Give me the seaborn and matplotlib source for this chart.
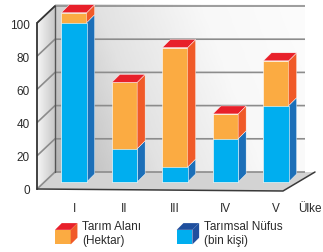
import numpy as np
import pandas as pd
import matplotlib.pyplot as plt
import seaborn as sns
from matplotlib.patches import Polygon, Rectangle, Patch
from matplotlib.colors import LinearSegmentedColormap
from matplotlib.legend_handler import HandlerBase

# data
ulke = ['I', 'II', 'III', 'IV', 'V']
nufus = [96, 20, 9, 26, 46]     # Tarımsal Nüfus (bin kişi), lower part
alan = [6, 40, 72, 15, 27]      # Tarım Alanı (Hektar), stacked on top
y_ticks = [0, 20, 40, 60, 80, 100]

df = pd.DataFrame({'ulke': ulke, 'nufus': nufus, 'alan': alan})
df['toplam'] = df['nufus'] + df['alan']

# colours
mavi, mavi_yan, mavi_ust = '#00aeef', '#1c6fb8', '#1f4f9e'
turuncu, turuncu_yan, kirmizi = '#fbab42', '#f05a28', '#e8202a'
yazi = '#2b2b2b'

sns.set_style('white')
plt.rcParams['font.family'] = ['Liberation Sans', 'DejaVu Sans']

# pixel scale of the reference -> data units
PX, PY = 50.5, 1.66
on = (-7 / PX, -7 / PY)      # front plane offset from bar plane
arka = (11 / PX, 10 / PY)    # back plane offset
derin = (8 / PX, 8 / PY)     # depth of the bars
xl_on = -37 / PX             # left wall, front edge
xl_arka = xl_on + arka[0] - on[0]
xr_arka = 231 / PX

fig = plt.figure(figsize=(3.23, 2.53), dpi=100)
ax = fig.add_axes([37 / 323, 61 / 253, 286 / 323, 192 / 253])

# back wall with a soft gradient
gx = np.linspace(0, 1, 200)[None, :]
gy = np.linspace(0, 1, 60)[:, None]
duvar_cmap = LinearSegmentedColormap.from_list('duvar', ['#b4b4b4', '#e2e2e2', '#f8f8f8', '#fcfcfc'])
ax.imshow(0.8 * gx + 0.2 * gy, extent=[xl_arka, xr_arka, arka[1], 100 + arka[1] + 2 / PY],
          origin='lower', aspect='auto', cmap=duvar_cmap, zorder=0)

# left wall
sol = Polygon([(xl_on, on[1]), (xl_on, 100 + on[1]), (xl_arka, 100 + arka[1]), (xl_arka, arka[1])],
              closed=True, fc='none', ec='none')
ax.add_patch(sol)
sol_cmap = LinearSegmentedColormap.from_list('sol', ['#f6f6f6', '#c8c8c8'])
im = ax.imshow(gx, extent=[xl_on, xl_arka, on[1], 100 + arka[1]], origin='lower',
               aspect='auto', cmap=sol_cmap, zorder=0.5)
im.set_clip_path(sol)

# floor
zemin = Polygon([(xl_on, on[1]), (209 / PX, -9 / PY), (241 / PX, arka[1]), (xl_arka, arka[1])],
                closed=True, fc='#d3d3d3', ec='none', zorder=1, clip_on=False)
ax.add_patch(zemin)
ax.plot([xl_on, 209 / PX, 241 / PX], [on[1], -9 / PY, arka[1]], color='#3a3a3a', lw=1.1,
        zorder=1.6, clip_on=False)

# grid lines on the walls
for v in y_ticks:
    ax.plot([xl_on, xl_arka, xr_arka], [v + on[1], v + arka[1], v + arka[1]],
            color='#8c8c8c', lw=1.2, zorder=1.5, solid_capstyle='butt')
ax.plot([xl_arka, xl_arka], [arka[1], 100 + arka[1]], color='#555555', lw=1.0, zorder=1.5)
ax.plot([xl_on, xl_arka], [100 + on[1], 100 + arka[1]], color='#333333', lw=1.2, zorder=1.6)

# bars: front faces through seaborn
sns.barplot(data=df, x='ulke', y='toplam', color=turuncu, saturation=1, width=0.5,
            errorbar=None, ax=ax, zorder=3, edgecolor='white', linewidth=0.4)
sns.barplot(data=df, x='ulke', y='nufus', color=mavi, saturation=1, width=0.5,
            errorbar=None, ax=ax, zorder=3.1, edgecolor='white', linewidth=0.4)

# side and top faces from the seaborn bars
dx, dy = derin
for ob, bb in zip(ax.containers[0], ax.containers[1]):
    x0, w = ob.get_x(), ob.get_width()
    top, mid = ob.get_height(), bb.get_height()
    xr = x0 + w
    ax.add_patch(Polygon([(xr, 0), (xr + dx, dy), (xr + dx, mid + dy), (xr, mid)],
                         fc=mavi_yan, ec='white', lw=0.3, zorder=3))
    ax.add_patch(Polygon([(xr, mid), (xr + dx, mid + dy), (xr + dx, top + dy), (xr, top)],
                         fc=turuncu_yan, ec='white', lw=0.3, zorder=3))
    ax.add_patch(Polygon([(x0, top), (xr, top), (xr + dx, top + dy), (x0 + dx, top + dy)],
                         fc=kirmizi, ec='white', lw=0.3, zorder=3))

ax.set_xlim(xl_on, 249 / PX)
ax.set_ylim(-9 / PY, 183 / PY)

# axes dressing
for s in ['top', 'right', 'bottom']:
    ax.spines[s].set_visible(False)
ax.spines['left'].set_bounds(on[1], 100 + on[1])
ax.spines['left'].set_color('#333333')
ax.spines['left'].set_linewidth(1.3)
ax.spines['left'].set_zorder(2)
ax.set_yticks([v + on[1] for v in y_ticks], labels=[str(v) for v in y_ticks])
ax.set_xticks(range(len(ulke)), labels=ulke)
ax.tick_params(axis='y', length=0, pad=5, labelsize=8.5, labelcolor=yazi)
ax.tick_params(axis='x', length=0, pad=8, labelsize=8.5, labelcolor=yazi)
ax.set_xlabel('')
ax.set_ylabel('')
ax.annotate('Ülke', xy=(4.43, 0), xycoords=('data', 'axes fraction'), xytext=(0, -8),
            textcoords='offset points', ha='left', va='top', fontsize=8.5, color=yazi)


class Kup(HandlerBase):
    def __init__(self, yuz, ust, yan):
        super().__init__()
        self.renk = (yuz, ust, yan)

    def create_artists(self, legend, orig_handle, xdescent, ydescent, width, height, fontsize, trans):
        yuz, ust, yan = self.renk
        d = width * 0.3
        w, h = width - d, height - d
        x0, y0 = -xdescent, -ydescent
        parca = [Rectangle((x0, y0), w, h, fc=yuz, ec='none'),
                 Polygon([(x0, y0 + h), (x0 + w, y0 + h), (x0 + w + d, y0 + h + d), (x0 + d, y0 + h + d)],
                         fc=ust, ec='none'),
                 Polygon([(x0 + w, y0), (x0 + w + d, y0 + d), (x0 + w + d, y0 + h + d), (x0 + w, y0 + h)],
                         fc=yan, ec='none')]
        for p in parca:
            p.set_transform(trans)
        return parca


h1, h2 = Patch(), Patch()
fig.legend([h1, h2], ['Tarım Alanı\n(Hektar)', 'Tarımsal Nüfus\n(bin kişi)'],
           handler_map={h1: Kup(turuncu, kirmizi, turuncu_yan), h2: Kup(mavi, mavi_ust, mavi_ust)},
           loc='upper left', bbox_to_anchor=(55 / 323, 1 - 221 / 253), ncol=2, frameon=False,
           fontsize=8.5, labelcolor=yazi, handlelength=1.9, handleheight=2.4, handletextpad=0.4,
           columnspacing=3.0, borderpad=0, borderaxespad=0)

fig.savefig('out.png', dpi=100)
